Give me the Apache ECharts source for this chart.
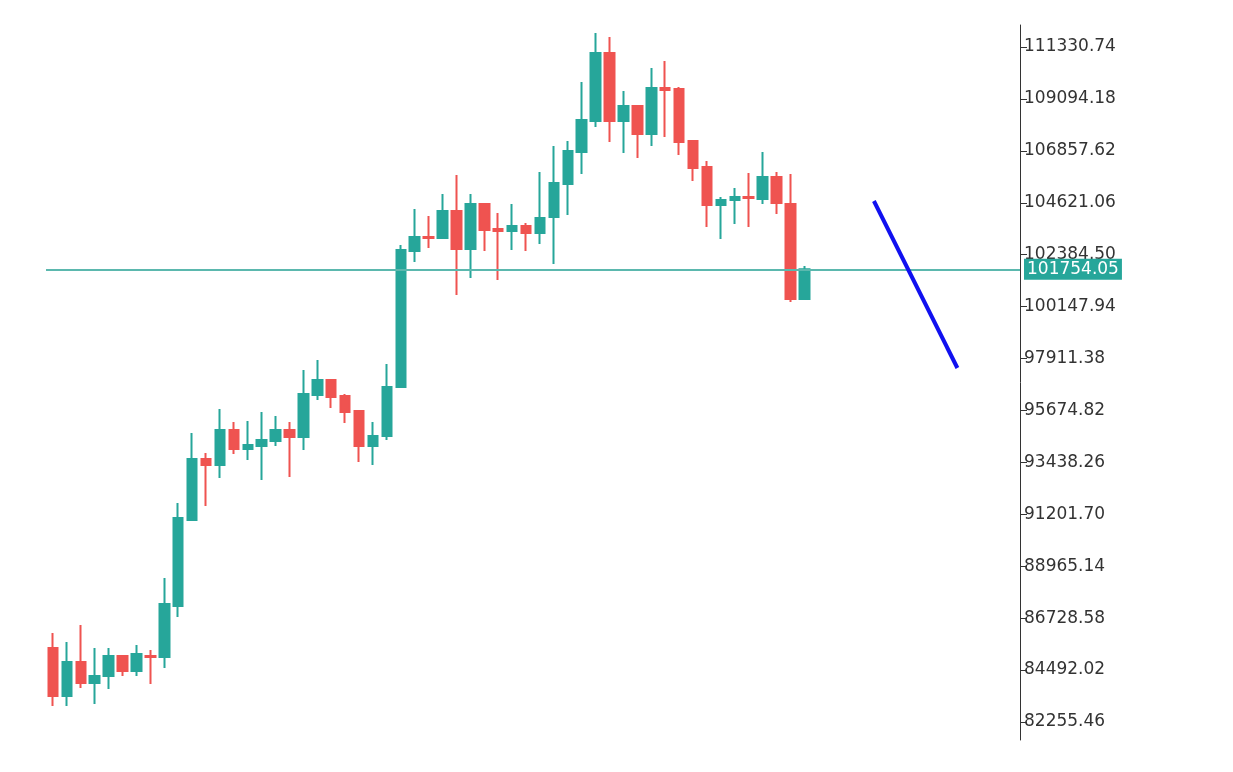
<!DOCTYPE html>
<html><head><meta charset="utf-8">
<script src="https://cdn.jsdelivr.net/npm/echarts@6/dist/echarts.min.js"></script>
<style>html,body{margin:0;padding:0;background:#fff}#c{width:1233px;height:772px}</style>
</head><body><div id="c"></div>
<script>
// [open, close, low, high]
const candles = [
[85443,83377,82946,86089],[83377,84841,82946,85701],[84841,83937,83722,86434],[83937,84238,83033,85443],
[84238,85099,83679,85443],[85099,84453,84238,85099],[84453,85185,84238,85572],[85099,85056,83894,85357],
[85056,87338,84582,88458],[87252,91042,86778,91689],[90956,93585,90956,94704],[93585,93326,91559,93843],
[93326,94834,92766,95738],[94834,94015,93800,95178],[94015,94188,93541,95221],[94144,94403,92680,95609],
[94360,94834,94144,95436],[94834,94532,92809,95178],[94532,96384,93972,97418],[96341,96987,96125,97849],
[96987,96255,95781,96987],[96298,95609,95135,96384],[95652,94144,93455,95652],[94144,94575,93326,95178],
[94575,96686,94403,97676],[96686,102587,96686,102802],[102544,103147,102070,104353],[103147,103104,102673,104051],
[103104,104267,103104,104999],[104267,102630,100648,105817],[102630,104568,101381,104999],[104568,103448,102544,104611],
[103491,103405,101294,104181],[103405,103621,102587,104568],[103621,103319,102544,103750],[103319,103965,102845,105947],
[104008,105473,101984,107066],[105430,106851,104094,107282],[106808,108186,105860,109823],[108143,111072,107885,111934],
[111072,108143,107239,111761],[108143,108789,106765,109435],[108789,107583,106550,108789],[107583,109565,107066,110426],
[109565,109478,107454,110728],[109522,107239,106679,109608],[107282,106119,105559,107282],[106162,104525,103578,106420],
[104525,104740,103061,104870],[104740,104870,103707,105257],[104870,104826,103578,105903],[104783,105731,104568,106808],
[105731,104611,104138,105947],[104568,100476,100347,105860],[100476,101754.05,100433,101898]
];
const lastPrice = 101754.05;
const trendLine = [[59,104697],[65,97504]];
const yTicks = [111330.74,109094.18,106857.62,104621.06,102384.50,100147.94,97911.38,95674.82,93438.26,91201.70,88965.14,86728.58,84492.02,82255.46];
const categories = Array.from({length:70},(_,i)=>String(i+1));

const chart = echarts.init(document.getElementById('c'));
chart.setOption({
  animation:false,
  grid:{left:46,right:213,top:25,bottom:32},
  xAxis:{type:'category',data:categories,boundaryGap:true,show:false},
  yAxis:{type:'value',position:'right',min:81480,max:112278,scale:true,
    splitLine:{show:false},
    axisLine:{show:true,lineStyle:{color:'#333',width:1}},
    axisTick:{show:true,length:7,lineStyle:{color:'#333'},customValues:yTicks},
    axisLabel:{customValues:yTicks,color:'#333',fontSize:17,fontFamily:'DejaVu Sans',margin:4,formatter:v=>v.toFixed(2)}
  },
  series:[
    {type:'candlestick',data:candles,barWidth:10,
     itemStyle:{color:'#26a69a',color0:'#ef5350',borderColor:'#26a69a',borderColor0:'#ef5350',borderWidth:2},
     markLine:{symbol:'none',silent:true,
       lineStyle:{color:'#5bb8ae',width:2,type:'solid'},
       label:{position:'end',formatter:'101754.05',color:'#fff',backgroundColor:'#26a69a',padding:[2,3],fontSize:17,fontFamily:'DejaVu Sans',distance:4},
       data:[{yAxis:lastPrice}]}},
    {type:'line',data:trendLine,symbol:'none',lineStyle:{color:'#1010f0',width:4},z:5}
  ]
});
</script></body></html>
